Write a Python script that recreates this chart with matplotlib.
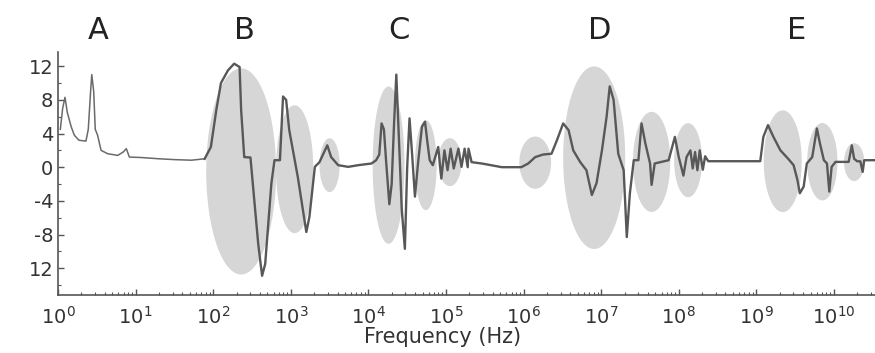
import numpy as np
import matplotlib
matplotlib.use('Agg')
import matplotlib.pyplot as plt
from matplotlib.ticker import FixedLocator, FixedFormatter, LogLocator, NullFormatter

# curva (expoente log10 da frequencia, valor)
log_freq = [0.03, 0.06, 0.09, 0.12, 0.17, 0.21, 0.27, 0.36, 0.39, 0.42, 0.435, 0.46, 0.48, 0.51,
            0.555, 0.64, 0.77, 0.84, 0.88, 0.92, 1.07, 1.3, 1.5, 1.72, 1.89,
            1.97, 2.04, 2.10, 2.19, 2.27, 2.34, 2.36, 2.40, 2.48, 2.51, 2.58, 2.63, 2.67, 2.75,
            2.79, 2.86, 2.90, 2.94, 2.98, 3.09, 3.20, 3.24, 3.31, 3.37, 3.44, 3.47, 3.52, 3.61,
            3.74, 3.87, 4.04,
            4.10, 4.14, 4.17, 4.20, 4.23, 4.27, 4.30, 4.33, 4.36, 4.40, 4.43, 4.47, 4.50, 4.53,
            4.56, 4.60, 4.64, 4.69, 4.73, 4.76, 4.79, 4.83, 4.90, 4.94, 4.98, 5.02, 5.06, 5.10,
            5.16, 5.20, 5.24, 5.28, 5.29, 5.33, 5.46, 5.72, 5.97,
            6.06, 6.15, 6.25, 6.36, 6.43, 6.51, 6.58, 6.64, 6.73, 6.81, 6.88, 6.94, 7.01, 7.07,
            7.11, 7.16, 7.22, 7.29, 7.33, 7.37, 7.42, 7.48, 7.52, 7.57, 7.63, 7.65, 7.69, 7.87,
            7.95, 8.00, 8.06, 8.10, 8.15, 8.18, 8.21, 8.24, 8.27, 8.31, 8.34, 8.38,
            9.05, 9.09, 9.15, 9.22, 9.31, 9.41, 9.48, 9.53, 9.56, 9.61, 9.65, 9.72, 9.78, 9.82,
            9.87, 9.91, 9.94, 9.97, 10.02, 10.19, 10.23, 10.26, 10.30, 10.34, 10.37, 10.39, 10.55]
valor = [4.5, 7.0, 8.3, 6.5, 4.8, 3.8, 3.2, 3.1, 4.5, 9.0, 11.0, 9.0, 4.5, 3.8,
         2.0, 1.6, 1.4, 1.8, 2.2, 1.2, 1.15, 1.0, 0.9, 0.83, 1.0,
         2.4, 6.8, 10.0, 11.5, 12.3, 11.9, 6.8, 1.2, 1.15, -1.9, -9.1, -12.9, -11.5, -1.9,
         0.83, 0.83, 8.4, 8.0, 4.4, -1.15, -7.7, -5.9, 0.04, 0.6, 2.0, 2.6, 1.2, 0.24,
         0.04, 0.24, 0.44,
         0.83, 1.5, 5.2, 4.5, 0.5, -4.4, -2.0, 5.0, 11.0, 2.0, -5.0, -9.7, 0.0, 5.8,
         2.0, -3.5, 0.5, 4.8, 5.4, 3.0, 0.83, 0.24, 2.4, -1.35, 2.0, -0.36, 2.2, -0.15,
         2.2, 0.04, 2.2, 0.0, 2.2, 0.6, 0.44, 0.0, 0.0,
         0.44, 1.2, 1.5, 1.6, 3.2, 5.2, 4.4, 2.0, 0.6, -0.36, -3.3, -1.9, 2.0, 6.0,
         9.6, 8.0, 1.6, -0.36, -8.3, -3.1, 0.83, 0.83, 5.2, 2.8, 0.44, -2.1, 0.44, 0.83,
         3.6, 1.2, -1.0, 1.2, 2.0, -0.15, 1.8, -0.36, 2.0, -0.3, 1.3, 0.71,
         0.71, 3.6, 5.0, 3.6, 2.0, 1.0, 0.24, -1.55, -3.1, -2.3, 0.44, 1.2, 4.6, 2.8,
         0.83, 0.44, -2.9, 0.04, 0.63, 0.63, 2.6, 1.0, 0.7, 0.7, -0.56, 0.83, 0.83]

# elipses cinzas: centro (log10 f, valor), largura em decadas, altura
elip_cx = [2.36, 3.05, 3.50, 4.26, 4.74, 5.05, 6.15, 6.91, 7.65, 8.12, 9.34, 9.85, 10.26]
elip_cy = [-0.5, -0.24, 0.24, 0.24, 0.24, 0.6, 0.54, 1.13, 0.63, 0.83, 0.71, 0.65, 0.6]
elip_w = [0.90, 0.48, 0.26, 0.41, 0.28, 0.30, 0.41, 0.80, 0.48, 0.36, 0.49, 0.39, 0.26]
elip_h = [24.5, 15.2, 6.4, 18.7, 10.7, 5.7, 6.2, 21.7, 11.9, 8.8, 12.1, 9.2, 4.5]

# letras das regioes
letras = ['A', 'B', 'C', 'D', 'E']
letras_x = [0.52, 2.40, 4.40, 6.98, 9.52]

y_ticks = [12, 8, 4, 0, -4, -8, -12]
y_labels = ['12', '8', '4', '0', '-4', '-8', '12']

fig = plt.figure(figsize=(8.75, 3.53), dpi=100)
ax = fig.add_axes([0.0663, 0.164, 0.94, 0.689])

t = np.linspace(0, 2 * np.pi, 120)
for i in range(len(elip_cx)):
    ex = 10 ** (elip_cx[i] + elip_w[i] / 2 * np.cos(t))
    ey = elip_cy[i] + elip_h[i] / 2 * np.sin(t)
    ax.fill(ex, ey, color='#d6d6d6', lw=0, zorder=1)

freq = 10 ** np.array(log_freq)
valor = np.array(valor)
n_a = 25  # parte A tem traco mais fino
ax.plot(freq[:n_a], valor[:n_a], color='#6a6a6a', lw=1.1, zorder=3)
ax.plot(freq[n_a - 1:], valor[n_a - 1:], color='#585858', lw=1.7, zorder=3)

ax.set_xscale('log')
ax.set_xlim(1, 10 ** 10.6)
ax.set_ylim(-15.2, 13.7)

ax.xaxis.set_major_locator(FixedLocator([10.0 ** k for k in range(11)]))
ax.xaxis.set_minor_locator(LogLocator(base=10, subs=np.arange(2, 10), numticks=30))
ax.xaxis.set_minor_formatter(NullFormatter())
ax.yaxis.set_major_locator(FixedLocator(y_ticks))
ax.yaxis.set_major_formatter(FixedFormatter(y_labels))
ax.yaxis.set_minor_locator(FixedLocator(np.arange(-14, 13, 2)))

ax.tick_params(which='both', direction='in', colors='#555555', labelcolor='#333333')
ax.tick_params(which='major', length=4, width=1, labelsize=14)
ax.tick_params(which='minor', length=2.5, width=0.8)
ax.tick_params(axis='x', pad=8)

for s in ['top', 'right']:
    ax.spines[s].set_visible(False)
for s in ['left', 'bottom']:
    ax.spines[s].set_color('#555555')
    ax.spines[s].set_linewidth(1.2)

ax.set_xlabel('Frequency (Hz)', fontsize=15, color='#333333')
ax.xaxis.set_label_coords(0.468, -0.13)

for i in range(len(letras)):
    ax.text(10 ** letras_x[i], 1.09, letras[i], transform=ax.get_xaxis_transform(),
            ha='center', va='center', fontsize=22, color='#222222', clip_on=False)

fig.savefig('out.png', dpi=100)
